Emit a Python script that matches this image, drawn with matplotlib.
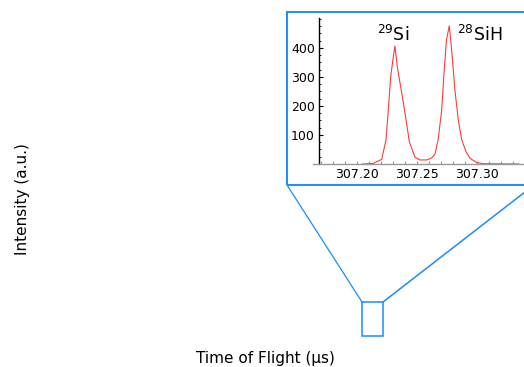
import matplotlib
matplotlib.use("Agg")
import matplotlib.pyplot as plt
from matplotlib.patches import Rectangle
from matplotlib.lines import Line2D
from matplotlib.ticker import MultipleLocator, FixedLocator

# ---- data ----
tof_us = [307.205, 307.214, 307.221, 307.2246, 307.2265, 307.2285, 307.2307, 307.232,
          307.234, 307.2377, 307.2413, 307.244, 307.246, 307.2488, 307.2529, 307.2585,
          307.2627, 307.2654, 307.268, 307.271, 307.2729, 307.275, 307.2773, 307.2793,
          307.282, 307.2848, 307.2877, 307.2913, 307.2946, 307.300, 307.306, 307.335]
intensity = [0, 2, 16, 83, 186, 301, 370, 407,
             335, 244, 152, 77, 54, 23, 14, 14,
             21, 34, 83, 186, 313, 428, 476, 393,
             255, 152, 83, 42, 20, 5, 1, 0]
x_ticks = [307.20, 307.25, 307.30]
x_tick_labels = ["307.20", "307.25", "307.30"]
y_ticks = [100, 200, 300, 400]
peak_labels = [r"$^{29}$Si", r"$^{28}$SiH"]
peak_label_x = [307.2302, 307.3028]
peak_label_y = [445, 445]

W, H = 524, 367
fig = plt.figure(figsize=(W / 100, H / 100), dpi=100)
plt.rcParams['font.family'] = ['DejaVu Sans']

def fx(px):
    return px / W

def fy(py):
    return 1 - py / H

# main (hidden) axes with labels only
fig.text(fx(265), fy(358), "Time of Flight (µs)", ha="center", va="center", fontsize=11)
fig.text(fx(22.5), fy(199), "Intensity (a.u.)", ha="center", va="center",
         rotation=90, fontsize=11)

blue = "#1a8cff"
# zoom box on the main axes and the inset frame
fig.add_artist(Rectangle((fx(362), fy(336)), fx(383) - fx(362), fy(302) - fy(336),
                         transform=fig.transFigure, fill=False, ec=blue, lw=1.1))
fig.add_artist(Rectangle((fx(287), fy(185)), fx(540) - fx(287), fy(12) - fy(185),
                         transform=fig.transFigure, fill=False, ec=blue, lw=1.4))
fig.add_artist(Line2D([fx(362), fx(287)], [fy(302), fy(185)], transform=fig.transFigure,
                      color=blue, lw=0.9))
fig.add_artist(Line2D([fx(383), fx(534)], [fy(302), fy(185)], transform=fig.transFigure,
                      color=blue, lw=1.1))

# inset axes
px_per_unit = 60 / 0.05
left_px, right_px = 313, 540
x0 = 307.20 - (356.5 - left_px) / px_per_unit
x1 = 307.20 + (right_px - 356.5) / px_per_unit
ax = fig.add_axes([fx(left_px), fy(164), fx(right_px) - fx(left_px), fy(18) - fy(164)])
ax.patch.set_alpha(0)
ax.plot(tof_us, intensity, color="#ff3b3b", lw=0.8)
ax.set_xlim(x0, x1)
ax.set_ylim(0, 503)
ax.spines["top"].set_visible(False)
ax.spines["right"].set_visible(False)
ax.spines["left"].set_position(("data", 307.20 - (356.5 - 319) / px_per_unit))
ax.spines["left"].set_color("black")
ax.spines["left"].set_linewidth(1.0)
ax.spines["bottom"].set_color("#999999")
ax.spines["bottom"].set_linewidth(1.0)
ax.xaxis.set_major_locator(FixedLocator(x_ticks))
ax.set_xticklabels(x_tick_labels)
ax.xaxis.set_minor_locator(MultipleLocator(0.01))
ax.yaxis.set_major_locator(FixedLocator(y_ticks))
ax.yaxis.set_minor_locator(MultipleLocator(25))
ax.tick_params(axis="x", which="both", direction="in", color="#999999", length=2,
               width=0.8, labelsize=9, pad=3)
ax.tick_params(axis="y", which="major", direction="in", length=3, width=0.8,
               labelsize=9, pad=3)
ax.tick_params(axis="y", which="minor", direction="in", length=1.5, width=0.6)
for lx, ly, lab in zip(peak_label_x, peak_label_y, peak_labels):
    ax.text(lx, ly, lab, ha="center", va="center", fontsize=12.5, clip_on=False)

fig.savefig("out.png", dpi=100)
